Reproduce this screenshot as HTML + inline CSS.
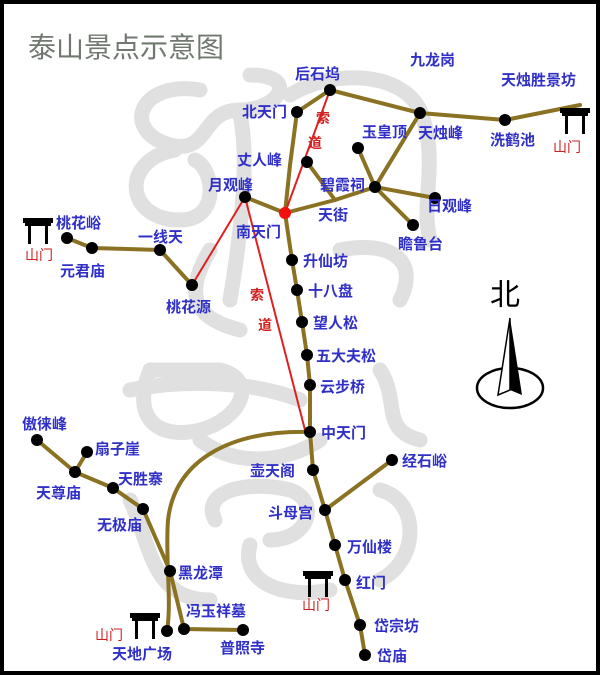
<!DOCTYPE html>
<html><head><meta charset="utf-8"><style>
html,body{margin:0;padding:0;background:#fff}
svg{display:block}
text{font-family:"Liberation Sans","Noto Sans CJK SC",sans-serif;}
.l{fill:#3030c8;font-size:15px;font-weight:bold}
.r{fill:#d02020;font-size:14px}
</style></head><body>
<svg width="600" height="675" viewBox="0 0 600 675" xmlns="http://www.w3.org/2000/svg">
<rect x="2" y="2" width="596" height="671" fill="#fff" stroke="#000" stroke-width="4"/>
<text x="28" y="57" font-size="28" fill="#707870">泰山景点示意图</text>
<!-- watermark -->
<g fill="none" stroke="#e0e0e0" stroke-width="15" stroke-linecap="round" stroke-linejoin="round">
<path d="M200,90 C140,80 120,130 170,145 C210,155 200,110 240,110 C280,110 300,75 250,75"/>
<path d="M175,150 C120,160 125,220 180,220 C220,220 215,170 195,160"/>
<path d="M240,115 C250,160 240,240 230,300"/>
<path d="M210,250 C180,300 200,320 240,330"/>
<path d="M290,95 C330,70 400,70 420,110 C440,160 420,200 430,240"/>
<path d="M340,250 C390,240 420,260 400,300"/>
<path d="M150,370 C130,420 160,440 200,430 C240,420 260,380 220,370 Z"/>
<path d="M130,390 C180,380 250,380 300,400"/>
<path d="M200,440 C240,470 290,460 320,440"/>
<path d="M215,520 C200,490 250,480 290,490 C320,500 310,540 270,540"/>
<path d="M130,500 C150,540 150,600 210,600"/>
<path d="M250,545 C240,580 280,600 330,590"/>
<path d="M380,370 C400,400 380,430 420,440"/>
<path d="M380,490 C420,500 420,560 380,580"/>
</g>
<!-- roads -->
<g fill="none" stroke="#8a7222" stroke-width="4" stroke-linecap="round" stroke-linejoin="round">
<path d="M297,112 L330,90 L420,113 L505,120 L580,105"/>
<path d="M297,112 L290,165 L285,213"/>
<path d="M245,197 L285,213 L335,200 L375,187 L435,198"/>
<path d="M375,187 L413,225"/>
<path d="M358,148 L375,187"/>
<path d="M375,187 L420,113"/>
<path d="M307,162 L335,200"/>
<path d="M285,213 L292,260 L297,290 L302,322 L307,355 L310,385 L310,432 L313,470 L325,510 L335,545 L345,580 L360,625 L365,655"/>
<path d="M325,510 L392,460"/>
<path d="M67,238 L92,248 L160,250 L192,285"/>
<path d="M310,432 C230,430 175,460 168,520 C165,560 172,600 167,631"/>
<path d="M37,440 L75,472 L87,452"/>
<path d="M75,472 L113,488 L143,509 L170,571 L184,629 L243,630"/>
</g>
<g fill="none" stroke="#e02020" stroke-width="2">
<path d="M245,197 L192,285"/>
<path d="M245,197 L305,430"/>
<path d="M285,213 L330,90"/>
</g>
<g fill="#000">
<circle cx="330" cy="90" r="6"/><circle cx="420" cy="113" r="6"/><circle cx="505" cy="120" r="6"/>
<circle cx="297" cy="112" r="6"/><circle cx="358" cy="148" r="6"/><circle cx="307" cy="162" r="6"/>
<circle cx="375" cy="187" r="6"/><circle cx="435" cy="198" r="6"/><circle cx="413" cy="225" r="6"/>
<circle cx="245" cy="197" r="6"/><circle cx="160" cy="250" r="6"/><circle cx="67" cy="238" r="6"/>
<circle cx="92" cy="248" r="6"/><circle cx="192" cy="285" r="6"/>
<circle cx="292" cy="260" r="6"/><circle cx="297" cy="290" r="6"/><circle cx="302" cy="322" r="6"/>
<circle cx="307" cy="355" r="6"/><circle cx="310" cy="385" r="6"/><circle cx="310" cy="432" r="6"/>
<circle cx="313" cy="470" r="6"/><circle cx="392" cy="460" r="6"/><circle cx="325" cy="510" r="6"/>
<circle cx="335" cy="545" r="6"/><circle cx="345" cy="580" r="6"/><circle cx="360" cy="625" r="6"/>
<circle cx="365" cy="655" r="6"/>
<circle cx="37" cy="440" r="6"/><circle cx="87" cy="452" r="6"/><circle cx="75" cy="472" r="6"/>
<circle cx="113" cy="488" r="6"/><circle cx="143" cy="509" r="6"/><circle cx="170" cy="571" r="6"/>
<circle cx="167" cy="631" r="6"/><circle cx="184" cy="629" r="6"/><circle cx="243" cy="630" r="6"/>
</g>
<circle cx="285" cy="213" r="6" fill="#f01010"/>
<!-- labels -->
<g class="l">
<text x="295" y="79">后石坞</text><text x="410" y="65">九龙岗</text><text x="501" y="85">天烛胜景坊</text>
<text x="242" y="117">北天门</text><text x="362" y="137">玉皇顶</text><text x="418" y="138">天烛峰</text>
<text x="490" y="145">洗鹤池</text><text x="237" y="165">丈人峰</text><text x="320" y="190">碧霞祠</text>
<text x="208" y="190">月观峰</text><text x="427" y="211">日观峰</text><text x="318" y="220">天街</text>
<text x="236" y="237">南天门</text><text x="398" y="249">瞻鲁台</text>
<text x="56" y="228">桃花峪</text><text x="138" y="242">一线天</text><text x="60" y="276">元君庙</text>
<text x="166" y="312">桃花源</text>
<text x="303" y="266">升仙坊</text><text x="308" y="296">十八盘</text><text x="313" y="328">望人松</text>
<text x="316" y="361">五大夫松</text><text x="320" y="392">云步桥</text><text x="321" y="438">中天门</text>
<text x="250" y="476">壶天阁</text><text x="402" y="466">经石峪</text><text x="268" y="518">斗母宫</text>
<text x="347" y="552">万仙楼</text><text x="356" y="588">红门</text><text x="374" y="631">岱宗坊</text>
<text x="377" y="661">岱庙</text>
<text x="22" y="429">傲徕峰</text><text x="95" y="454">扇子崖</text><text x="36" y="498">天尊庙</text>
<text x="118" y="484">天胜寨</text><text x="97" y="530">无极庙</text><text x="178" y="578">黑龙潭</text>
<text x="186" y="616">冯玉祥墓</text><text x="112" y="659">天地广场</text><text x="220" y="653">普照寺</text>
</g>
<g class="r">
<text x="25" y="260">山门</text><text x="553" y="152">山门</text><text x="302" y="610">山门</text><text x="95" y="640">山门</text>
<text x="250" y="300" font-weight="bold">索</text><text x="258" y="330" font-weight="bold">道</text>
<text x="316" y="123" font-weight="bold">索</text><text x="308" y="148" font-weight="bold">道</text>
</g>
<!-- gates -->
<g fill="#000">
<g transform="translate(38,232)"><rect x="-15" y="-14" width="30" height="5"/><rect x="-13" y="-9" width="26" height="3"/><rect x="-10" y="-6" width="3" height="18"/><rect x="7" y="-6" width="3" height="18"/></g>
<g transform="translate(575,122)"><rect x="-15" y="-14" width="30" height="5"/><rect x="-13" y="-9" width="26" height="3"/><rect x="-10" y="-6" width="3" height="18"/><rect x="7" y="-6" width="3" height="18"/></g>
<g transform="translate(318,585)"><rect x="-15" y="-14" width="30" height="5"/><rect x="-13" y="-9" width="26" height="3"/><rect x="-10" y="-6" width="3" height="18"/><rect x="7" y="-6" width="3" height="18"/></g>
<g transform="translate(145,627)"><rect x="-15" y="-14" width="30" height="5"/><rect x="-13" y="-9" width="26" height="3"/><rect x="-10" y="-6" width="3" height="18"/><rect x="7" y="-6" width="3" height="18"/></g>
</g>
<!-- compass -->
<text x="490" y="305" font-size="30" fill="#000">北</text>
<ellipse cx="510" cy="388" rx="33" ry="20" fill="none" stroke="#000" stroke-width="2.5"/>
<polygon points="510,318 498,395 510,390" fill="#fff" stroke="#000" stroke-width="1.5"/>
<polygon points="510,318 522,395 510,390" fill="#000"/>
</svg>
</body></html>
